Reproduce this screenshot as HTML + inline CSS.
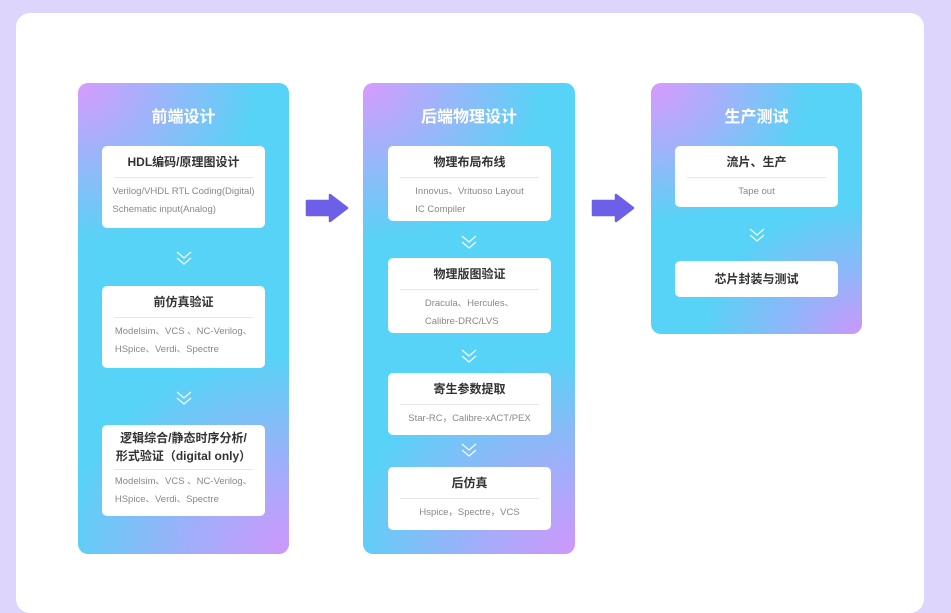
<!DOCTYPE html>
<html><head><meta charset="utf-8"><style>
*{margin:0;padding:0;box-sizing:border-box}
body{width:951px;height:575px;background:#ddd5fb;position:relative;overflow:hidden;font-family:"Liberation Sans","Noto Sans CJK SC",sans-serif}
.card{position:absolute;left:16px;top:13px;width:908px;height:600px;background:#fff;border-radius:14px}
.col{position:absolute;border-radius:10px;overflow:hidden;background:
radial-gradient(ellipse 180px 160px at 0 0,#d79bfd 0%,rgba(215,155,253,.55) 45%,rgba(215,155,253,0) 100%),
radial-gradient(ellipse 230px 200px at 100% 100%,#cf97fb 0%,rgba(207,151,251,.6) 45%,rgba(207,151,251,0) 100%),
#56d3f6}
.ct{position:absolute;left:0;right:0;top:24px;text-align:center;color:#fff;font-weight:bold;font-size:16px;line-height:22px}
.box{position:absolute;left:24px;width:163px;background:#fff;border-radius:5px;text-align:center}
.bt{font-weight:bold;font-size:12px;color:#333;line-height:18px;padding-top:7px}
.hr{margin:6px 12px 0;border-top:1px solid #e8e8e8}
.bx{font-size:9.5px;color:#888;line-height:18px;padding-top:5px;display:inline-block;text-align:left}
.chev{position:absolute;left:50%;margin-left:-9px;width:18px;height:14px}
.arrow{position:absolute;width:44px;height:30px}
</style></head><body>
<div class="card"></div>

<div class="col" style="left:78px;top:83px;width:211px;height:471px">
 <div class="ct">前端设计</div>
 <div class="box" style="top:63px;height:82px"><div class="bt">HDL编码/原理图设计</div><div class="hr"></div><div class="bx">Verilog/VHDL RTL Coding(Digital)<br>Schematic input(Analog)</div></div>
 <svg class="chev" style="top:168px" viewBox="0 0 18 14"><path d="M2 1l7 6 7-6M2 7l7 6 7-6" fill="none" stroke="#fff" stroke-width="1.3" opacity=".9"/></svg>
 <div class="box" style="top:203px;height:82px"><div class="bt">前仿真验证</div><div class="hr"></div><div class="bx">Modelsim、VCS 、NC-Verilog、<br>HSpice、Verdi、Spectre</div></div>
 <svg class="chev" style="top:308px" viewBox="0 0 18 14"><path d="M2 1l7 6 7-6M2 7l7 6 7-6" fill="none" stroke="#fff" stroke-width="1.3" opacity=".9"/></svg>
 <div class="box" style="top:342px;height:91px"><div class="bt" style="padding-top:4px">逻辑综合/静态时序分析/<br>形式验证（digital only）</div><div class="hr" style="margin-top:4px"></div><div class="bx" style="padding-top:3px">Modelsim、VCS 、NC-Verilog、<br>HSpice、Verdi、Spectre</div></div>
</div>

<svg class="arrow" style="left:305px;top:193px" viewBox="0 0 44 30"><path d="M2 8h23V2l17 13-17 13v-6H2z" fill="#6d5fe8" stroke="#6d5fe8" stroke-linejoin="round" stroke-width="2.5"/></svg>

<div class="col" style="left:363px;top:83px;width:212px;height:471px">
 <div class="ct">后端物理设计</div>
 <div class="box" style="left:25px;top:63px;height:75px"><div class="bt">物理布局布线</div><div class="hr"></div><div class="bx">Innovus、Vrituoso Layout<br>IC Compiler</div></div>
 <svg class="chev" style="top:152px" viewBox="0 0 18 14"><path d="M2 1l7 6 7-6M2 7l7 6 7-6" fill="none" stroke="#fff" stroke-width="1.3" opacity=".9"/></svg>
 <div class="box" style="left:25px;top:175px;height:75px"><div class="bt">物理版图验证</div><div class="hr"></div><div class="bx">Dracula、Hercules、<br>Calibre-DRC/LVS</div></div>
 <svg class="chev" style="top:266px" viewBox="0 0 18 14"><path d="M2 1l7 6 7-6M2 7l7 6 7-6" fill="none" stroke="#fff" stroke-width="1.3" opacity=".9"/></svg>
 <div class="box" style="left:25px;top:290px;height:62px"><div class="bt">寄生参数提取</div><div class="hr"></div><div class="bx">Star-RC，Calibre-xACT/PEX</div></div>
 <svg class="chev" style="top:360px" viewBox="0 0 18 14"><path d="M2 1l7 6 7-6M2 7l7 6 7-6" fill="none" stroke="#fff" stroke-width="1.3" opacity=".9"/></svg>
 <div class="box" style="left:25px;top:384px;height:63px"><div class="bt">后仿真</div><div class="hr"></div><div class="bx">Hspice，Spectre，VCS</div></div>
</div>

<svg class="arrow" style="left:591px;top:193px" viewBox="0 0 44 30"><path d="M2 8h23V2l17 13-17 13v-6H2z" fill="#6d5fe8" stroke="#6d5fe8" stroke-linejoin="round" stroke-width="2.5"/></svg>

<div class="col" style="left:651px;top:83px;width:211px;height:251px;background:
radial-gradient(ellipse 160px 140px at 0 0,#d89afd 0%,rgba(215,155,253,.6) 45%,rgba(215,155,253,0) 100%),
radial-gradient(ellipse 160px 130px at 100% 100%,#cb97fb 0%,rgba(203,151,251,.5) 45%,rgba(203,151,251,0) 100%),#56d3f6">
 <div class="ct">生产测试</div>
 <div class="box" style="top:63px;height:61px"><div class="bt">流片、生产</div><div class="hr"></div><div class="bx">Tape out</div></div>
 <svg class="chev" style="top:145px" viewBox="0 0 18 14"><path d="M2 1l7 6 7-6M2 7l7 6 7-6" fill="none" stroke="#fff" stroke-width="1.3" opacity=".9"/></svg>
 <div class="box" style="top:178px;height:36px"><div class="bt" style="padding-top:9px">芯片封装与测试</div></div>
</div>
</body></html>
